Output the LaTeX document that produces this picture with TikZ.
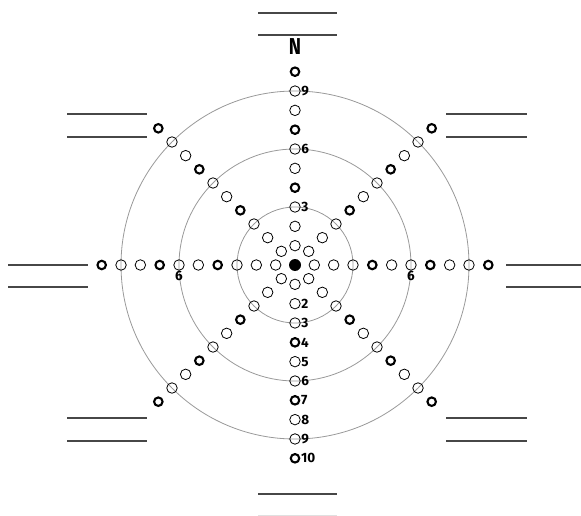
\documentclass[tikz,border=0pt]{standalone}
\usepackage{fontspec}
\setmainfont{Fira Sans}
\usetikzlibrary{calc}
\begin{document}
\begin{tikzpicture}[x=1pt,y=-1pt,
  ringline/.style={draw=black!40,line width=0.8pt},
  pt/.style={circle,draw=black,line width=0.8pt,minimum size=10.5pt,inner sep=0pt},
  bpt/.style={circle,draw=black,line width=2.1pt,minimum size=8.5pt,inner sep=0pt},
  cpt/.style={circle,fill=black,minimum size=12pt,inner sep=0pt},
  lbl/.style={font=\bfseries\fontsize{13.5}{14}\selectfont,inner sep=0.6pt},
  blank/.style={draw=black!72,line width=1.2pt},
  blanklight/.style={draw=black!12,line width=1.2pt}]
\useasboundingbox (0,0) rectangle (581,516);
\coordinate (O) at (295,265);
\foreach \r in {58,116,174} \draw[ringline] (O) circle[radius=\r];
\node[cpt] (c) at (O) {};
\foreach \a in {0,45,...,315}{
  \foreach \k/\s in {1/pt,2/pt,3/pt,4/bpt,5/pt,6/pt,7/bpt,8/pt,9/pt,10/bpt}{
    \node[\s] (p\a-\k) at ($(O)+(\a:{\k*19.33})$) {};
  }
}
% labels up ray
\foreach \k in {3,6,9} \node[lbl,anchor=west] at (p270-\k.east) {\k};
% labels down ray
\foreach \k in {2,...,10} \node[lbl,anchor=west] at (p90-\k.east) {\k};
% horizontal labels
\node[lbl,anchor=north] at (p0-6.south) {6};
\node[lbl,anchor=north] at (p180-6.south) {6};
% N
\node[font=\bfseries\fontsize{23}{23}\selectfont,xscale=0.8,inner sep=0pt] (N) at (295,47) {N};
% blanks
\draw[blank] (258,13) -- (337,13);
\draw[blank] (258,35) -- (337,35);
\draw[blank] (258,494) -- (337,494);
\draw[blanklight] (258,515.5) -- (337,515.5);
\draw[blank] (8,265) -- (88,265);
\draw[blank] (8,287) -- (88,287);
\draw[blank] (506,265) -- (581,265);
\draw[blank] (506,287) -- (581,287);
\draw[blank] (67,114) -- (147,114);
\draw[blank] (67,137) -- (147,137);
\draw[blank] (446,114) -- (527,114);
\draw[blank] (446,137) -- (527,137);
\draw[blank] (67,418) -- (147,418);
\draw[blank] (67,441) -- (147,441);
\draw[blank] (446,418) -- (527,418);
\draw[blank] (446,441) -- (527,441);
\end{tikzpicture}
\end{document}
